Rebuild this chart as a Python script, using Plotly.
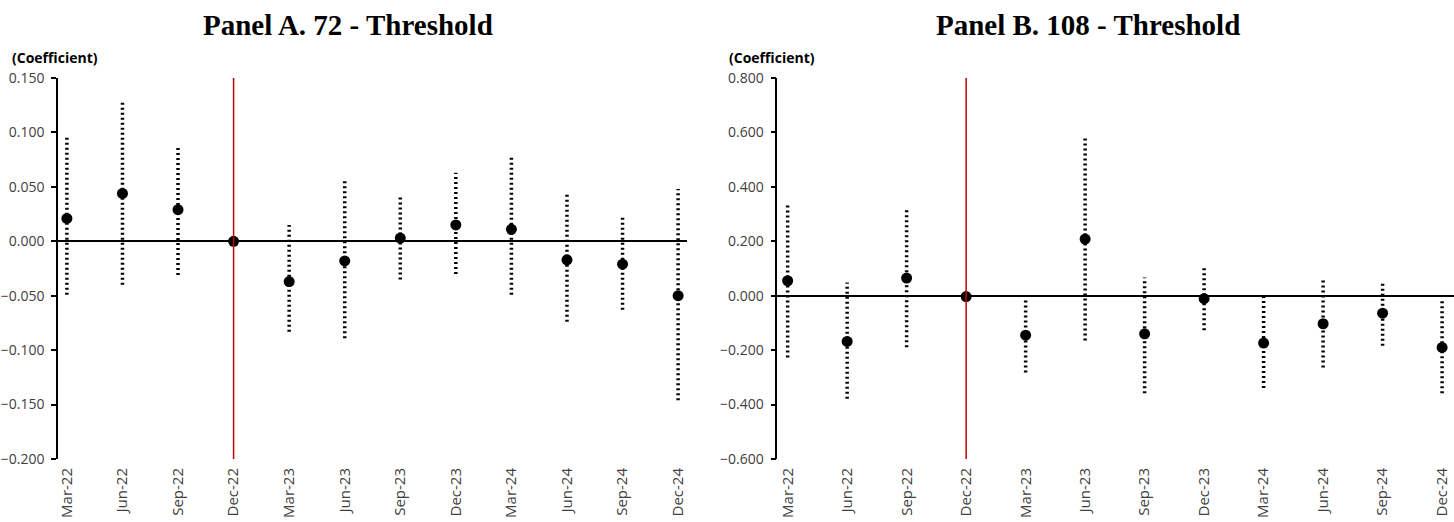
import plotly.graph_objects as go

categories = ["Mar-22", "Jun-22", "Sep-22", "Dec-22", "Mar-23", "Jun-23",
              "Sep-23", "Dec-23", "Mar-24", "Jun-24", "Sep-24", "Dec-24"]
threshold_period = "Dec-22"

# Panel A. 72 - Threshold
a_coef = [0.021, 0.044, 0.029, 0.000, -0.037, -0.018, 0.003, 0.015, 0.011, -0.017, -0.021, -0.050]
a_upper = [0.095, 0.130, 0.086, 0.000, 0.015, 0.058, 0.043, 0.063, 0.078, 0.043, 0.024, 0.048]
a_lower = [-0.049, -0.040, -0.031, 0.000, -0.083, -0.089, -0.035, -0.030, -0.049, -0.074, -0.063, -0.146]

# Panel B. 108 - Threshold
b_coef = [0.055, -0.168, 0.065, -0.003, -0.145, 0.208, -0.140, -0.011, -0.174, -0.103, -0.064, -0.190]
b_upper = [0.337, 0.049, 0.316, 0.000, -0.010, 0.582, 0.067, 0.103, 0.007, 0.062, 0.045, -0.010]
b_lower = [-0.227, -0.379, -0.189, 0.000, -0.282, -0.165, -0.358, -0.127, -0.339, -0.264, -0.184, -0.358]

a_yticks = [-0.200, -0.150, -0.100, -0.050, 0.000, 0.050, 0.100, 0.150]
b_yticks = [-0.600, -0.400, -0.200, 0.000, 0.200, 0.400, 0.600, 0.800]

titles = ["Panel A. 72 - Threshold", "Panel B. 108 - Threshold"]
y_label = "(Coefficient)"

W, H = 1454, 522
xs = list(range(len(categories)))


def ci_segments(lower, upper):
    sx, sy = [], []
    for i, (lo, hi) in enumerate(zip(lower, upper)):
        if lo == hi:
            continue
        sx += [i, i, None]
        sy += [lo, hi, None]
    return sx, sy


fig = go.Figure()
panels = [
    (a_coef, a_lower, a_upper, "x", "y"),
    (b_coef, b_lower, b_upper, "x2", "y2"),
]
for coef, lo, hi, xa, ya in panels:
    sx, sy = ci_segments(lo, hi)
    fig.add_trace(go.Scatter(x=sx, y=sy, mode="lines", xaxis=xa, yaxis=ya,
                             line=dict(color="black", width=3.5, dash="2px,3px"),
                             hoverinfo="skip", showlegend=False))
    fig.add_trace(go.Scatter(x=xs, y=coef, mode="markers", xaxis=xa, yaxis=ya,
                             marker=dict(color="black", size=11),
                             showlegend=False, cliponaxis=False))

thr = categories.index(threshold_period)
for xa, ya in [("x", "y"), ("x2", "y2")]:
    fig.add_shape(type="line", xref=xa, yref=ya + " domain", x0=thr, x1=thr, y0=0, y1=1,
                  line=dict(color="#C00000", width=1.5), layer="above")

tickfont_x = dict(family="Open Sans", size=15, color="#404040")
tickfont_y = dict(family="Open Sans", size=14, color="#404040")

common_x = dict(tickmode="array", tickvals=xs, ticktext=categories, tickangle=-90,
                showline=False, ticks="", showgrid=False, zeroline=False,
                tickfont=tickfont_x, automargin=False, fixedrange=True,
                ticklabeloverflow="allow", ticklabelstandoff=5)
common_y = dict(showline=True, linecolor="black", linewidth=1.5, ticks="outside",
                ticklen=5, tickwidth=1.5, tickcolor="black", showgrid=False,
                zeroline=True, zerolinecolor="black", zerolinewidth=1.5,
                tickformat=".3f", tickfont=tickfont_y, automargin=False,
                ticklabelstandoff=4)

fig.update_layout(
    width=W, height=H,
    margin=dict(l=0, r=0, t=78, b=63),
    paper_bgcolor="white", plot_bgcolor="white",
    xaxis=dict(domain=[58 / W, 687 / W], range=[-0.16, 11.16], anchor="y", **common_x),
    xaxis2=dict(domain=[777.3 / W, 1.0], range=[-0.174, 11.2], anchor="y2", **common_x),
    yaxis=dict(range=[-0.2, 0.15], tickvals=a_yticks, anchor="x", **common_y),
    yaxis2=dict(range=[-0.6, 0.8], tickvals=b_yticks, anchor="x2", **common_y),
)

plot_h = H - 78 - 63
for title, cx in zip(titles, [347.5, 1088]):
    fig.add_annotation(text="<b>%s</b>" % title, xref="paper", yref="paper",
                       x=cx / W, y=1 + (78 - 25) / plot_h, xanchor="center", yanchor="middle",
                       showarrow=False,
                       font=dict(family="Liberation Serif", size=29, color="black"))
for lx in [10, 726.7]:
    fig.add_annotation(text="<b>%s</b>" % y_label, xref="paper", yref="paper",
                       x=lx / W, y=1 + (78 - 57.5) / plot_h, xanchor="left", yanchor="middle",
                       showarrow=False,
                       font=dict(family="Open Sans", size=14, color="black"))

fig.write_html("out.html", config={"displayModeBar": False},
               post_script="document.body.style.margin='0';document.body.style.overflow='hidden';")
